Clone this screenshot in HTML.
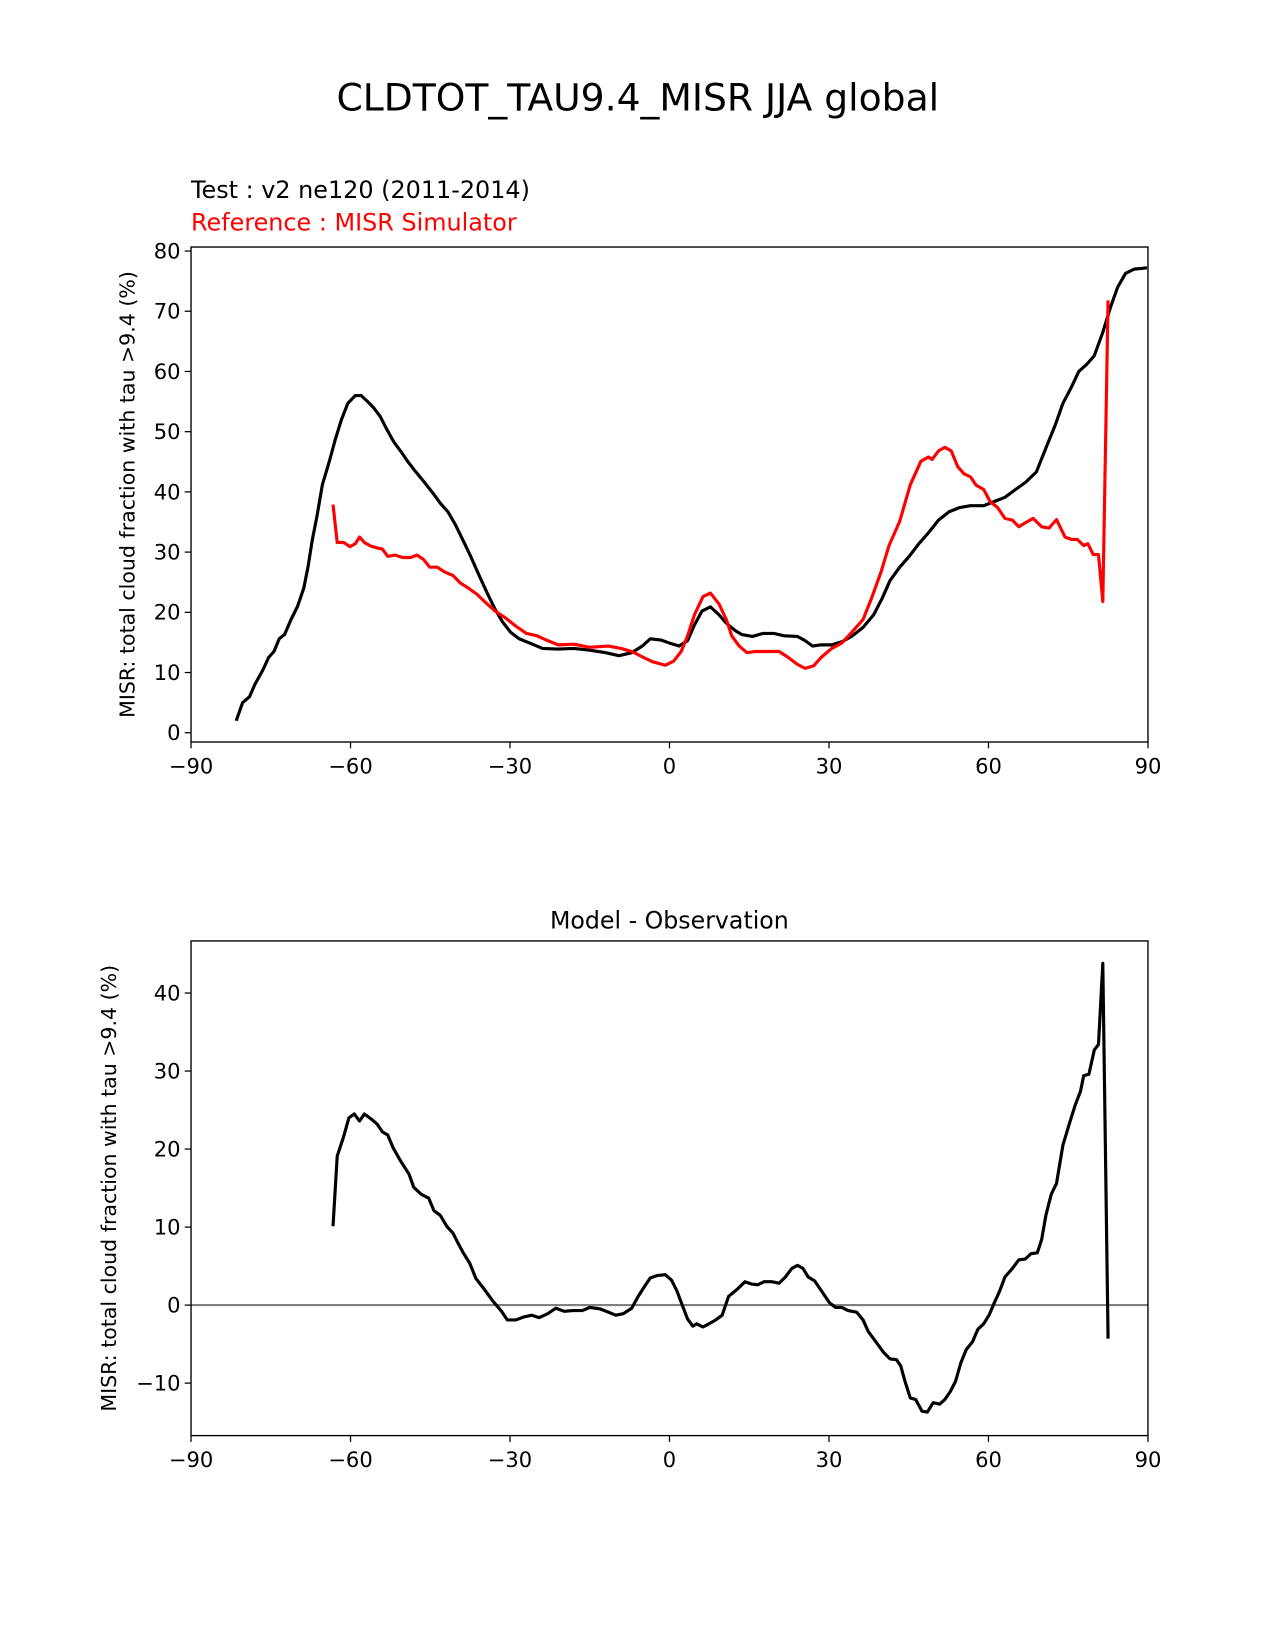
<!DOCTYPE html>
<html><head><meta charset="utf-8"><style>
html,body{margin:0;padding:0;background:#fff}
svg{display:block}
text{font-family:"DejaVu Sans","Liberation Sans",sans-serif}
</style></head><body>
<svg id="fig" xmlns="http://www.w3.org/2000/svg" width="1275" height="1650" viewBox="0 0 1211.4 1567.7">
<rect width="1211.4" height="1567.7" fill="#fff"/>
<text x="606" y="105" font-size="35.8" text-anchor="middle">CLDTOT_TAU9.4_MISR JJA global</text>
<text x="181.5" y="188" font-size="22.7">Test : v2 ne120 (2011-2014)</text>
<text x="181.5" y="219" font-size="22.7" fill="#f00">Reference : MISR Simulator</text>
<text x="636" y="882" font-size="22.5" text-anchor="middle">Model - Observation</text>
<g id="top"></g>
<g id="bot"></g>
</svg>
<script>
const xTicks=[-90,-60,-30,0,30,60,90];
const xTickLabels=["\u221290","\u221260","\u221230","0","30","60","90"];
const topYTicks=[0,10,20,30,40,50,60,70,80];
const botYTicks=[-10,0,10,20,30,40];
const botYTickLabels=["\u221210","0","10","20","30","40"];
const testLat=[-81.5,-80.3,-79,-78,-76.5,-75.4,-74.4,-73.4,-72.4,-71.2,-70,-68.8,-68,-67.2,-66.3,-65.3,-64,-62.9,-61.7,-60.5,-59.1,-58,-56.8,-55.6,-54.4,-53.2,-51.8,-50.6,-49.2,-47.7,-46.1,-44.5,-43.1,-41.7,-40.3,-38.8,-37.4,-35.8,-34.2,-32.8,-31.4,-29.9,-28.3,-26.3,-23.9,-21,-18,-15,-12,-9.5,-7.1,-5.1,-3.6,-1.6,0,1.8,3.4,4.7,6.1,7.7,9.3,10.7,12.3,13.6,15.6,17.6,19.6,21.6,24.1,25.5,26.9,28.5,30.5,32.4,34.4,36.4,38.4,40,41.5,43.3,45.1,46.9,48.7,50.6,52.6,54.6,56.6,59.1,61.1,63.1,65.1,67,69,71,72.6,74,75.6,77,78.5,79.9,81.5,82.9,84.3,85.8,87.4,89.8];
const testVal=[2,5,6,8,10.4,12.5,13.5,15.6,16.3,18.8,20.9,24,27.5,32,36,41.2,45,48.6,52,54.7,56,56,55,53.9,52.5,50.4,48.2,46.8,45,43.3,41.6,39.8,38.1,36.7,34.6,31.9,29.3,26.1,23,20.5,18.4,16.7,15.6,14.9,14,13.9,14,13.7,13.3,12.8,13.3,14.4,15.6,15.4,14.9,14.4,15.3,17.9,20.2,20.9,19.6,18.2,17,16.3,16,16.5,16.5,16.1,16,15.3,14.4,14.6,14.6,15.1,16.1,17.5,19.6,22.3,25.3,27.5,29.3,31.4,33.2,35.3,36.7,37.4,37.7,37.7,38.4,39.1,40.4,41.6,43.3,47.7,51.2,54.7,57.4,60,61.2,62.6,66.5,70.5,74,76.3,77,77.2];
const refLat=[-63.3,-62.5,-61.3,-60.1,-59.1,-58.3,-57.4,-56.2,-55,-54,-53,-51.6,-50.2,-48.7,-47.5,-46.3,-45.1,-43.7,-42.3,-40.7,-39.4,-37.8,-36.2,-34.8,-32.8,-30.9,-28.9,-26.9,-24.9,-22.9,-20.9,-18,-15,-11.5,-9.1,-7.1,-5.1,-3.2,-0.8,0.8,2.2,3.4,4.7,6.3,7.7,9.3,10.7,11.7,13.1,14.6,16.2,18.6,20.6,22.2,24,25.5,27.1,28.5,30.5,32.4,34.4,36.4,38,39.8,41.3,43.3,45.3,47.3,48.7,49.4,50.6,51.8,53,54.2,55.4,56.6,57.7,59.1,60.3,61.7,63.1,64.5,65.7,67,68.4,70,71.4,72.8,74.4,75.6,76.7,77.9,78.7,79.7,80.7,81.5,82.5];
const refVal=[37.9,31.6,31.6,30.9,31.4,32.5,31.6,31,30.7,30.5,29.3,29.5,29.1,29.1,29.5,28.8,27.5,27.5,26.7,26.1,24.9,24,23,21.8,20.2,19.1,17.7,16.5,16.1,15.3,14.6,14.7,14.2,14.4,14,13.5,12.6,11.8,11.2,11.9,13.5,16.1,19.6,22.6,23.2,21.4,18.8,16.1,14.4,13.3,13.5,13.5,13.5,12.6,11.4,10.7,11.1,12.5,14,14.9,16.8,18.8,22.3,26.7,31.1,35.1,41.2,45.1,45.8,45.4,46.8,47.4,46.8,44.2,43,42.5,41.1,40.4,38.4,37.4,35.6,35.3,34.2,34.9,35.6,34.2,34,35.4,32.5,32.1,32.1,31.1,31.4,29.6,29.6,21.8,71.8];
const diffLat=[-63.3,-62.5,-61.3,-60.3,-59.3,-58.3,-57.4,-56.2,-55,-54,-53,-52,-50.6,-49,-48.1,-46.7,-45.3,-44.3,-43.1,-41.9,-40.7,-39.9,-38.8,-37.6,-36.4,-34.8,-33.2,-31.6,-30.5,-28.9,-27.3,-25.9,-24.5,-22.9,-21.4,-19.8,-18.2,-16.4,-15,-13,-11.5,-10.1,-8.7,-7.1,-5.9,-4.7,-3.6,-2.2,-0.8,0.4,1.4,2.4,3.4,4.4,5.1,6.3,7.7,8.7,9.9,11.1,12.7,14.2,15.4,16.6,17.8,19.2,20.6,21.8,23,24.1,25.1,26.1,27.3,28.5,30.1,31.2,32.4,33.6,35.2,36.4,37.4,38.8,40.3,41.5,42.7,43.5,44.3,45.3,46.3,47.5,48.5,49.6,50.8,51.8,52.8,53.8,54.8,55.8,57,58,59.1,60.1,61.1,62.1,63.1,64.5,65.7,66.9,68,69.2,70,70.8,71.8,72.8,74,75.2,76.3,77.3,77.9,78.9,79.9,80.7,81.5,82.5];
const diffVal=[10.1,19.1,21.6,24,24.5,23.6,24.5,23.9,23.2,22.2,21.8,20.2,18.5,16.8,15.1,14.2,13.7,12.1,11.5,10.1,9.2,8.1,6.7,5.4,3.4,2,0.5,-0.8,-1.9,-1.9,-1.5,-1.3,-1.6,-1.1,-0.4,-0.8,-0.7,-0.7,-0.3,-0.5,-0.9,-1.3,-1.1,-0.4,1.1,2.4,3.5,3.8,3.9,3.2,1.8,0,-1.8,-2.7,-2.4,-2.8,-2.3,-1.9,-1.3,1.1,2,3,2.7,2.6,3,3,2.8,3.6,4.7,5.1,4.7,3.6,3.1,1.9,0.3,-0.3,-0.3,-0.7,-0.9,-1.9,-3.4,-4.7,-6.1,-6.9,-7,-7.8,-9.8,-11.9,-12.1,-13.6,-13.7,-12.5,-12.7,-12.1,-11.1,-9.8,-7.4,-5.7,-4.7,-3.1,-2.4,-1.3,0.3,1.8,3.6,4.7,5.8,5.9,6.6,6.7,8.4,11.5,14.2,15.6,20.5,23.2,25.6,27.4,29.4,29.6,32.7,33.4,43.8,-4.3];

const NS="http://www.w3.org/2000/svg";
const L=181.5,R=1090.7;
function xs(v){return L+(v+90)/180*(R-L);}
function el(p,tag,attrs){const e=document.createElementNS(NS,tag);for(const k in attrs)e.setAttribute(k,attrs[k]);p.appendChild(e);return e;}
function axes(g,top,bot,ys,yTicks,yLabels,name){
  for(let i=0;i<xTicks.length;i++){
    const x=xs(xTicks[i]);
    const t=el(g,'line',{x1:x,x2:x,y1:bot,y2:bot+6,stroke:'#000','stroke-width':1.2});
    
    
    const tx=el(g,'text',{x:x,y:bot+30,'font-size':20,'text-anchor':'middle'});
    tx.textContent=xTickLabels[i];
    
    
  }
  for(let i=0;i<yTicks.length;i++){
    const y=ys(yTicks[i]);
    const t=el(g,'line',{x1:L-6,x2:L,y1:y,y2:y,stroke:'#000','stroke-width':1.2});
    
    
    const tx=el(g,'text',{x:L-10,y:y+7,'font-size':20,'text-anchor':'end'});
    tx.textContent=yLabels[i];
    
    
  }
  const yl=el(g,'text',{x:0,y:0,'font-size':19.5,'text-anchor':'middle',transform:`translate(${name==='top'?128:110},${(top+bot)/2}) rotate(-90)`});
  yl.textContent='MISR: total cloud fraction with tau >9.4 (%)';
  
  
}
function series(g,lat,val,ys,color,name){
  let d='';
  for(let i=0;i<lat.length;i++)d+=(i?'L':'M')+xs(lat[i]).toFixed(1)+','+ys(val[i]).toFixed(1);
  const p=el(g,'path',{d:d,fill:'none',stroke:color,'stroke-width':3,'stroke-linejoin':'round'});
  
  
}
function frame(g,top,bot,name){
  const r=el(g,'rect',{x:L,y:top,width:R-L,height:bot-top,fill:'none',stroke:'#000','stroke-width':1.3});
  
  
}
const gt=document.getElementById('top');
const T1=234.7,B1=705;
const ys1=v=>696.2-v*(696.2-238.5)/80;
axes(gt,T1,B1,ys1,topYTicks,topYTicks.map(String),'top');
series(gt,testLat,testVal,ys1,'#000','test-line');
series(gt,refLat,refVal,ys1,'#f00','reference-line');
frame(gt,T1,B1,'top');
const gb=document.getElementById('bot');
const T2=894,B2=1364;
const ys2=v=>1240-v*(1240-943.5)/40;
axes(gb,T2,B2,ys2,botYTicks,botYTickLabels,'diff');
const zl=el(gb,'line',{x1:L,x2:R,y1:ys2(0),y2:ys2(0),stroke:'#808080','stroke-width':2});


series(gb,diffLat,diffVal,ys2,'#000','difference-line');
frame(gb,T2,B2,'diff');
</script>
</body></html>
